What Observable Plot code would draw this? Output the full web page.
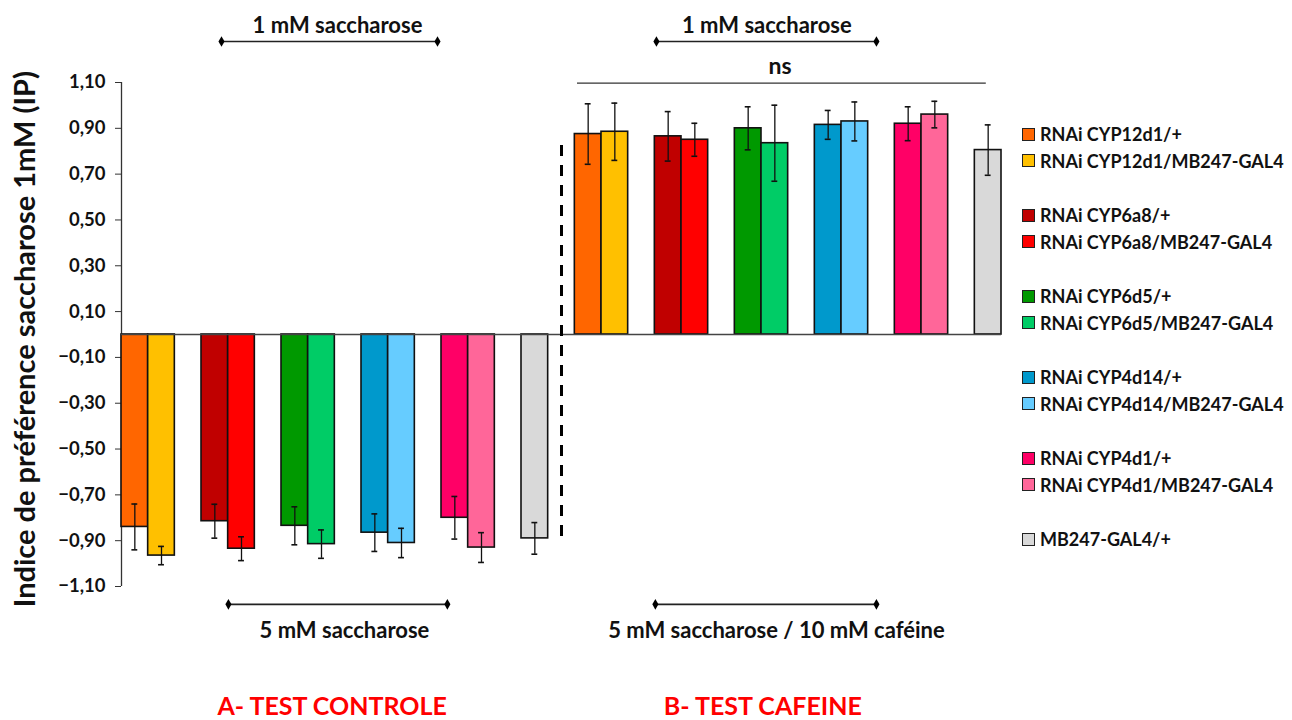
<!DOCTYPE html>
<html>
<head>
<meta charset="utf-8">
<script src="https://cdn.jsdelivr.net/npm/d3@7"></script>
<script src="https://cdn.jsdelivr.net/npm/@observablehq/plot@0.6"></script>
<style>
  html, body { margin: 0; padding: 0; background: #fff; }
  #wrap { position: relative; width: 1292px; height: 720px; font-family: Lato, "Open Sans", sans-serif; }
  #legend { position: absolute; left: 1022px; top: 121px; width: 268px; font-weight: 700; font-size: 18px; color: #111; }
  .row { display: flex; align-items: center; height: 26.5px; white-space: nowrap; }
  .sw { width: 11px; height: 11px; border: 1px solid #222; margin-right: 5px; flex: none; }
  .gap { height: 28px; }
</style>
</head>
<body>
<div id="wrap">
  <div id="chart"></div>
  <div id="legend"></div>
</div>
<script>
// ---- data ----
const genotypes = [
  "RNAi CYP12d1/+", "RNAi CYP12d1/MB247-GAL4",
  "RNAi CYP6a8/+", "RNAi CYP6a8/MB247-GAL4",
  "RNAi CYP6d5/+", "RNAi CYP6d5/MB247-GAL4",
  "RNAi CYP4d14/+", "RNAi CYP4d14/MB247-GAL4",
  "RNAi CYP4d1/+", "RNAi CYP4d1/MB247-GAL4",
  "MB247-GAL4/+"
];
const colors = [
  "#FF6600", "#FFC000",
  "#C00000", "#FF0000",
  "#009900", "#00CC66",
  "#0099CC", "#66CCFF",
  "#FF0066", "#FF6699",
  "#D9D9D9"
];
const tests = ["A- TEST CONTROLE", "B- TEST CAFEINE"];
const controlMeans = [-0.84, -0.965, -0.815, -0.935, -0.835, -0.915, -0.865, -0.91, -0.80, -0.93, -0.89];
const controlErr   = [0.10, 0.04, 0.074, 0.052, 0.083, 0.062, 0.082, 0.064, 0.093, 0.065, 0.069];
const caffeineMeans = [0.875, 0.885, 0.865, 0.85, 0.90, 0.835, 0.915, 0.93, 0.92, 0.96, 0.805];
const caffeineErr   = [0.132, 0.125, 0.108, 0.072, 0.094, 0.166, 0.063, 0.085, 0.074, 0.058, 0.11];
const yTicks = [-1.1, -0.9, -0.7, -0.5, -0.3, -0.1, 0.1, 0.3, 0.5, 0.7, 0.9, 1.1];
const yTitle = "Indice de préférence saccharose 1mM (IP)";

// annotation brackets (x in bar slots, y in index units)
const brackets = [
  {label: "1 mM saccharose", x1: 3.75, x2: 11.85, y: 1.279, ty: 1.345, tx: 8.1},
  {label: "1 mM saccharose", x1: 20.06, x2: 28.31, y: 1.279, ty: 1.345, tx: 24.2},
  {label: "5 mM saccharose", x1: 4.01, x2: 12.22, y: -1.178, ty: -1.292, tx: 8.36},
  {label: "5 mM saccharose / 10 mM caféine", x1: 20.02, x2: 28.31, y: -1.178, ty: -1.292, tx: 24.56}
];
const nsLine = {label: "ns", x1: 17.1, x2: 32.43, y: 1.097, ty: 1.17, tx: 24.7};
const separator = {x: 16.5, y1: -0.882, y2: 0.855};
const testLabels = [{label: tests[0], x: 7.9, y: -1.628}, {label: tests[1], x: 24.05, y: -1.628}];

// ---- build rows ----
const rows = [];
[controlMeans, caffeineMeans].forEach((means, t) => {
  const errs = t === 0 ? controlErr : caffeineErr;
  means.forEach((m, i) => {
    rows.push({
      test: tests[t], genotype: genotypes[i], mean: m, err: errs[i], color: colors[i],
      slot: t * 17 + Math.floor(i / 2) * 3 + (i % 2)
    });
  });
});

const fmt = d => d3.format(".2f")(d).replace(".", ",");
const ends = brackets.flatMap(b => [{x: b.x1, y: b.y}, {x: b.x2, y: b.y}]);

const chart = Plot.plot({
  width: 1292,
  height: 720,
  marginLeft: 121,
  marginRight: 291,
  marginTop: 82,
  marginBottom: 134,
  style: {fontFamily: "Lato, 'Open Sans', sans-serif", color: "#111", background: "#fff"},
  x: {domain: [0, 33], axis: null},
  y: {domain: [-1.1, 1.1], axis: null},
  color: {type: "identity"},
  marks: [
    Plot.axisY({ticks: yTicks, tickFormat: fmt, tickSize: 6, tickPadding: 10, fontSize: 18.5, fontWeight: "bold", stroke: "#333", label: null}),
    Plot.ruleX([0], {y1: -1.1, y2: 1.1, stroke: "#333", strokeWidth: 1.3}),
    Plot.rectY(rows, {x1: d => d.slot, x2: d => d.slot + 1, y1: 0, y2: "mean", fill: "color", stroke: "#111", strokeWidth: 1.6}),
    Plot.ruleY([0], {stroke: "#444", strokeWidth: 1.5}),
    Plot.ruleX(rows, {x: d => d.slot + 0.5, y1: d => d.mean - d.err, y2: d => d.mean + d.err, stroke: "#111", strokeWidth: 1.3}),
    Plot.ruleY(rows, {y: d => d.mean - d.err, x1: d => d.slot + 0.39, x2: d => d.slot + 0.61, stroke: "#111", strokeWidth: 1.6}),
    Plot.ruleY(rows, {y: d => d.mean + d.err, x1: d => d.slot + 0.39, x2: d => d.slot + 0.61, stroke: "#111", strokeWidth: 1.6}),
    Plot.ruleX([separator], {x: "x", y1: "y1", y2: "y2", stroke: "#000", strokeWidth: 3, strokeDasharray: "11,9"}),
    Plot.ruleY(brackets, {y: "y", x1: "x1", x2: "x2", stroke: "#222", strokeWidth: 1.6}),
    Plot.dot(ends, {x: "x", y: "y", symbol: "diamond", r: 3.2, fill: "#000"}),
    Plot.text(brackets, {x: "tx", y: "ty", text: "label", fontSize: 22, fontWeight: "bold", fill: "#111"}),
    Plot.ruleY([nsLine], {y: "y", x1: "x1", x2: "x2", stroke: "#333", strokeWidth: 1.3}),
    Plot.text([nsLine], {x: "tx", y: "ty", text: "label", fontSize: 23, fontWeight: "bold", fill: "#111"}),
    Plot.text(testLabels, {x: "x", y: "y", text: "label", fontSize: 25, fontWeight: "bold", fill: "#FF0000"}),
    Plot.text([yTitle], {x: -3.6, y: -0.02, text: d => d, rotate: -90, fontSize: 29, fontWeight: "bold", fill: "#111"})
  ]
});
document.getElementById("chart").appendChild(chart);

// ---- legend ----
const legend = document.getElementById("legend");
genotypes.forEach((g, i) => {
  const row = document.createElement("div");
  row.className = "row";
  const sw = document.createElement("span");
  sw.className = "sw";
  sw.style.background = colors[i];
  const label = document.createElement("span");
  label.textContent = g;
  row.appendChild(sw);
  row.appendChild(label);
  legend.appendChild(row);
  if (i % 2 === 1 && i < genotypes.length - 1) {
    const gap = document.createElement("div");
    gap.className = "gap";
    legend.appendChild(gap);
  }
});
</script>
</body>
</html>
